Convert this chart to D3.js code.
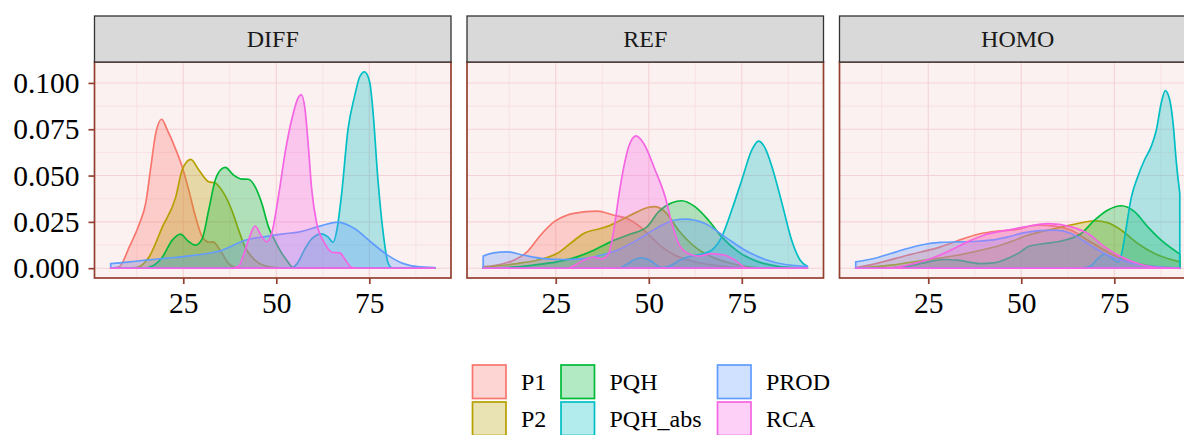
<!DOCTYPE html>
<html>
<head>
<meta charset="utf-8">
<script src="https://cdn.jsdelivr.net/npm/d3@7"></script>
<style>
  html, body { margin: 0; padding: 0; background: #fff; }
  svg { display: block; }
</style>
</head>
<body>
<svg id="chart" width="1184" height="435"></svg>
<script>
// facets and groups
const panels = ['DIFF', 'REF', 'HOMO'];
const groups = ['P1', 'P2', 'PQH', 'PQH_abs', 'PROD', 'RCA'];
const colors = ['#F8766D', '#B79F00', '#00BA38', '#00BFC4', '#619CFF', '#F564E3'];
const xTicks = [25, 50, 75];
const yTicks = [0, 0.025, 0.05, 0.075, 0.1];
const yTickLabels = ['0.000', '0.025', '0.050', '0.075', '0.100'];

// densities: [value, density]
// DIFF
const diffP1 = [[5.5,0],[7.8,0.0008],[10.5,0.0115],[13.2,0.024],[14.9,0.035],[16.3,0.0548],[17.6,0.0728],[19.2,0.0804],[20.7,0.0746],[23,0.064],[24.7,0.0548],[26.5,0.042],[28.3,0.0277],[30.1,0.017],[32,0.014],[33,0.0142],[35.4,0.008],[37.2,0.0025],[39,0.0005],[45,0],[92.6,0]];
const diffP2 = [[5.5,0],[12.3,0.0003],[15.8,0.006],[19.4,0.0223],[23,0.0385],[24.7,0.053],[27,0.0587],[29.2,0.053],[31.8,0.0467],[33.6,0.046],[35.4,0.042],[38.1,0.031],[39.9,0.0205],[41.6,0.0115],[44.3,0.0043],[47.4,0.001],[52,0],[92.6,0]];
const diffPQH = [[5.5,0],[14,0],[17,0.0015],[19.4,0.006],[22,0.015],[24.3,0.0184],[26.1,0.015],[28.3,0.0125],[30.1,0.016],[31.8,0.031],[33.6,0.0476],[35,0.053],[36.3,0.0544],[38.5,0.0503],[40.7,0.0481],[42.5,0.048],[44.3,0.044],[46.1,0.035],[47.9,0.0223],[49.6,0.015],[51.5,0.008],[52.8,0.0043],[54.5,0.0003],[57,0],[92.6,0]];
const diffPQHabs = [[5.5,0],[52,0],[54.5,0.0005],[55.8,0.003],[57.7,0.0104],[59.5,0.0158],[62.2,0.0185],[63.8,0.017],[65.3,0.014],[66.4,0.022],[67.5,0.039],[69.3,0.0753],[71.1,0.0933],[72.4,0.1032],[73.7,0.106],[75.1,0.1005],[76,0.0843],[77.3,0.0483],[78.6,0.0212],[80,0.0032],[81,0.0003],[83,0],[92.6,0]];
const diffPROD = [[5.5,0.0025],[10,0.0033],[14.9,0.0043],[20,0.0053],[28.3,0.007],[35.4,0.0097],[41.6,0.0151],[47.9,0.0173],[52,0.0185],[56,0.0195],[62.2,0.023],[66.6,0.0249],[71.1,0.0213],[75.5,0.014],[80,0.0069],[84.4,0.0023],[88,0.0008],[92.6,0.0003]];
const diffRCA = [[5.5,0],[38,0],[39.9,0.001],[41,0.006],[42.5,0.015],[44.3,0.0227],[46.1,0.017],[47.4,0.0142],[48.8,0.019],[50.6,0.039],[52.4,0.0627],[54.2,0.0807],[56,0.0924],[56.7,0.0937],[57.7,0.0861],[58.6,0.0663],[59.5,0.0429],[60.8,0.0249],[63.1,0.0131],[64.9,0.0086],[67.1,0.0083],[68.4,0.005],[70.2,0.0005],[72,0],[92.6,0]];
// REF
const refP1 = [[5.5,0.0008],[10,0.002],[13.7,0.0043],[17.3,0.0088],[20.9,0.0178],[24.5,0.025],[28,0.0286],[32.5,0.0304],[36.1,0.0308],[40.6,0.0286],[44.2,0.0268],[47.7,0.0223],[49.5,0.019],[53.5,0.0115],[58,0.0061],[62.4,0.0034],[68.7,0.0013],[75,0.0003],[80,0],[92.6,0]];
const refP2 = [[5.5,0.0005],[14.6,0.0025],[21.8,0.0052],[25.3,0.0079],[28.9,0.0133],[32.5,0.0187],[37,0.0214],[39.7,0.0232],[43.3,0.0268],[46.9,0.0304],[49.5,0.0326],[51.5,0.0332],[54.4,0.0304],[58,0.0205],[62.4,0.0115],[66.9,0.0061],[72.3,0.0025],[77.7,0.0005],[82,0],[92.6,0]];
const refPQH = [[5.5,0],[10,0.0002],[19.1,0.0017],[25.3,0.0034],[30.7,0.0061],[35.2,0.0097],[39.7,0.0142],[44.2,0.0178],[49.5,0.0223],[52.6,0.0304],[56.2,0.0353],[58.9,0.0364],[62.4,0.0332],[66,0.026],[69.6,0.0169],[74.1,0.0088],[79.5,0.0034],[84.8,0.001],[90,0.0002],[92.6,0]];
const refPQHabs = [[5.5,0],[42,0],[44,0.002],[46,0.0045],[48.1,0.0056],[50.5,0.004],[52.5,0.001],[53.9,0.0003],[56,0.0015],[58.5,0.0045],[61.3,0.0065],[64,0.0075],[66.9,0.0097],[69.6,0.0169],[72.3,0.0314],[75,0.0476],[77.7,0.0638],[79.5,0.0686],[81.3,0.0647],[83.1,0.0548],[85.8,0.035],[88.4,0.0151],[90.7,0.0043],[92.6,0.001]];
const refPROD = [[5.5,0.0065],[8.3,0.0083],[11.9,0.0088],[16.4,0.007],[21.8,0.0052],[27.2,0.0047],[31.6,0.005],[37,0.007],[41.5,0.0097],[46,0.0142],[49.5,0.0185],[53.5,0.0232],[57,0.026],[59.8,0.0265],[65.1,0.0241],[70.5,0.0169],[75.9,0.0097],[81.3,0.0047],[86.6,0.002],[92.6,0.001]];
const refRCA = [[5.5,0],[28,0],[29.5,0.001],[32.5,0.0043],[35.2,0.006],[37.4,0.005],[39.2,0.0079],[40.6,0.0205],[41.9,0.0385],[43.3,0.0548],[44.6,0.0656],[46.6,0.0714],[48.6,0.0674],[51.7,0.053],[54.4,0.0385],[56.2,0.0241],[58,0.0133],[60.6,0.0079],[63.3,0.0065],[66.9,0.0079],[70.5,0.007],[73.2,0.0043],[75.9,0.0005],[78,0],[92.6,0]];
// HOMO
const homoP1 = [[5.5,0.0003],[10.4,0.0022],[19.4,0.007],[28.3,0.0115],[34.6,0.016],[39.1,0.0187],[43.5,0.02],[48,0.0207],[54.5,0.0232],[59,0.0227],[63.4,0.0205],[67.9,0.0151],[72.4,0.0097],[76.9,0.0052],[81.3,0.0025],[86,0.0008],[92.6,0]];
const homoP2 = [[5.5,0],[14.9,0.0016],[23.8,0.0043],[32.8,0.007],[39.1,0.0097],[44.4,0.0124],[47.5,0.0145],[50.9,0.0172],[59,0.0214],[65.2,0.0241],[69.7,0.0256],[73.3,0.0245],[76.9,0.0205],[81.3,0.0133],[85.8,0.0079],[92.6,0.0034]];
const homoPQH = [[5.5,0],[15,0.0002],[19.4,0.001],[23.8,0.0029],[29.2,0.0047],[32.8,0.0043],[39.1,0.0025],[42.6,0.0029],[46.2,0.0052],[49.8,0.0088],[52,0.0118],[56.3,0.0133],[61.6,0.0151],[66.1,0.0187],[69.7,0.0259],[73.3,0.0314],[76.9,0.0337],[80.5,0.0304],[84,0.0223],[87.6,0.0151],[92.6,0.0076]];
const homoPQHabs = [[5.5,0],[66,0],[68.5,0.001],[70.5,0.005],[72.4,0.0076],[74.3,0.0055],[76,0.0034],[77,0.008],[77.8,0.0169],[79.6,0.0385],[81.3,0.0494],[83.1,0.0584],[84.9,0.0656],[86.3,0.0746],[87.6,0.089],[88.7,0.0959],[89.9,0.0908],[90.8,0.0782],[91.7,0.0566],[92.6,0.0404]];
const homoPROD = [[5.5,0.0034],[10.4,0.0052],[14.9,0.0079],[19.4,0.0106],[23.8,0.0128],[28.3,0.0139],[32.8,0.0142],[37.3,0.0144],[41.7,0.0151],[46.2,0.0168],[50.9,0.0192],[55,0.0203],[59,0.0205],[63.4,0.0187],[67.9,0.0133],[72.4,0.0079],[76.9,0.0043],[81.3,0.002],[85.8,0.0008],[92.6,0.0002]];
const homoRCA = [[5.5,0],[14.9,0.0002],[21.1,0.0025],[26.5,0.0058],[31,0.0097],[35.5,0.0142],[39.9,0.0178],[46.2,0.0205],[50.9,0.0223],[57.2,0.0241],[63.4,0.0223],[67.9,0.0187],[72.4,0.0115],[76.9,0.0061],[81.3,0.0025],[85.8,0.0005],[92.6,0]];

const panelData = {
  DIFF: [diffP1, diffP2, diffPQH, diffPQHabs, diffPROD, diffRCA],
  REF:  [refP1, refP2, refPQH, refPQHabs, refPROD, refRCA],
  HOMO: [homoP1, homoP2, homoPQH, homoPQHabs, homoPROD, homoRCA]
};

// layout
const panelLeft = 94.5, panelW = 356.5, panelGap = 16;
const stripTop = 16, panelTop = 62, panelBottom = 278;
const borderCol = '#93402F';
const font = '"Liberation Serif", "Times New Roman", serif';

const svg = d3.select('#chart');

// shared scales with ggplot style 5% expansion
const allPts = Object.values(panelData).flat(2);
const xExt = d3.extent(allPts, d => d[0]);
const yMax = d3.max(allPts, d => d[1]);
const xPad = (xExt[1] - xExt[0]) * 0.05;
const yPad = yMax * 0.05;
const x = d3.scaleLinear().domain([xExt[0] - xPad, xExt[1] + xPad]).range([0, panelW]);
const y = d3.scaleLinear().domain([-yPad, yMax + yPad]).range([panelBottom, panelTop]);

const area = d3.area()
  .x(d => x(d[0]))
  .y0(y(0))
  .y1(d => y(d[1]))
  .curve(d3.curveMonotoneX);

const defs = svg.append('defs');

panels.forEach((name, i) => {
  const left = panelLeft + i * (panelW + panelGap);
  const g = svg.append('g').attr('transform', `translate(${left},0)`);

  defs.append('clipPath').attr('id', 'clip' + i)
    .append('rect').attr('x', 0).attr('y', panelTop).attr('width', panelW).attr('height', panelBottom - panelTop);

  // background
  g.append('rect').attr('x', 0).attr('y', panelTop).attr('width', panelW).attr('height', panelBottom - panelTop)
    .attr('fill', '#FCF1F1');

  // minor + major grid
  const xMinor = [12.5, 37.5, 62.5, 87.5];
  const yMinor = [0.0125, 0.0375, 0.0625, 0.0875];
  const grid = g.append('g').attr('clip-path', `url(#clip${i})`);
  grid.selectAll('.xminor').data(xMinor).enter().append('line')
    .attr('x1', d => x(d)).attr('x2', d => x(d)).attr('y1', panelTop).attr('y2', panelBottom)
    .attr('stroke', '#F7DEE0').attr('stroke-width', 0.8);
  grid.selectAll('.yminor').data(yMinor).enter().append('line')
    .attr('x1', 0).attr('x2', panelW).attr('y1', d => y(d)).attr('y2', d => y(d))
    .attr('stroke', '#F7DEE0').attr('stroke-width', 0.8);
  grid.selectAll('.xmajor').data(xTicks).enter().append('line')
    .attr('x1', d => x(d)).attr('x2', d => x(d)).attr('y1', panelTop).attr('y2', panelBottom)
    .attr('stroke', '#F4D3D6').attr('stroke-width', 1.1);
  grid.selectAll('.ymajor').data(yTicks).enter().append('line')
    .attr('x1', 0).attr('x2', panelW).attr('y1', d => y(d)).attr('y2', d => y(d))
    .attr('stroke', '#F4D3D6').attr('stroke-width', 1.1);

  // densities
  const curves = g.append('g').attr('clip-path', `url(#clip${i})`);
  panelData[name].forEach((pts, k) => {
    curves.append('path')
      .attr('d', area(pts) + 'Z')
      .attr('fill', colors[k]).attr('fill-opacity', 0.3)
      .attr('stroke', colors[k]).attr('stroke-width', 1.7)
      .attr('stroke-linejoin', 'round');
  });

  // border
  g.append('rect').attr('x', 0).attr('y', panelTop).attr('width', panelW).attr('height', panelBottom - panelTop)
    .attr('fill', 'none').attr('stroke', borderCol).attr('stroke-width', 1.7);

  // strip
  g.append('rect').attr('x', 0).attr('y', stripTop).attr('width', panelW).attr('height', panelTop - stripTop)
    .attr('fill', '#D9D9D9').attr('stroke', '#333333').attr('stroke-width', 1.3);
  g.append('text').attr('x', panelW / 2).attr('y', (stripTop + panelTop) / 2).attr('dy', '0.35em')
    .attr('text-anchor', 'middle').attr('font-family', font).attr('font-size', 24).attr('fill', '#1A1A1A')
    .text(name);

  // x axis
  const xa = g.append('g').attr('transform', `translate(0,${panelBottom})`)
    .call(d3.axisBottom(x).tickValues(xTicks).tickSize(6).tickPadding(8));
  xa.select('.domain').remove();
  xa.selectAll('line').attr('stroke', borderCol).attr('stroke-width', 1.7);
  xa.selectAll('text').attr('font-family', font).attr('font-size', 29.5).attr('fill', '#000');

  // y axis on the first panel only
  if (i === 0) {
    const ya = g.append('g')
      .call(d3.axisLeft(y).tickValues(yTicks).tickFormat((d, j) => yTickLabels[j]).tickSize(6).tickPadding(9));
    ya.select('.domain').remove();
    ya.selectAll('line').attr('stroke', borderCol).attr('stroke-width', 1.7);
    ya.selectAll('text').attr('font-family', font).attr('font-size', 29.5).attr('fill', '#000');
  }
});

// legend, three columns by two rows
const legCols = [471.5, 560, 716.5];
const legRows = [364, 401];
const keySize = 35.5;
const legend = svg.append('g');
groups.forEach((grp, k) => {
  const col = Math.floor(k / 2), row = k % 2;
  const lx = legCols[col], ly = legRows[row];
  legend.append('rect')
    .attr('x', lx + 1).attr('y', ly + 1).attr('width', keySize - 2).attr('height', keySize - 2)
    .attr('fill', colors[k]).attr('fill-opacity', 0.3)
    .attr('stroke', colors[k]).attr('stroke-width', 1.7);
  legend.append('text')
    .attr('x', lx + keySize + 14).attr('y', ly + keySize / 2).attr('dy', '0.35em')
    .attr('font-family', font).attr('font-size', 24).attr('fill', '#000')
    .text(grp);
});
</script>
</body>
</html>
